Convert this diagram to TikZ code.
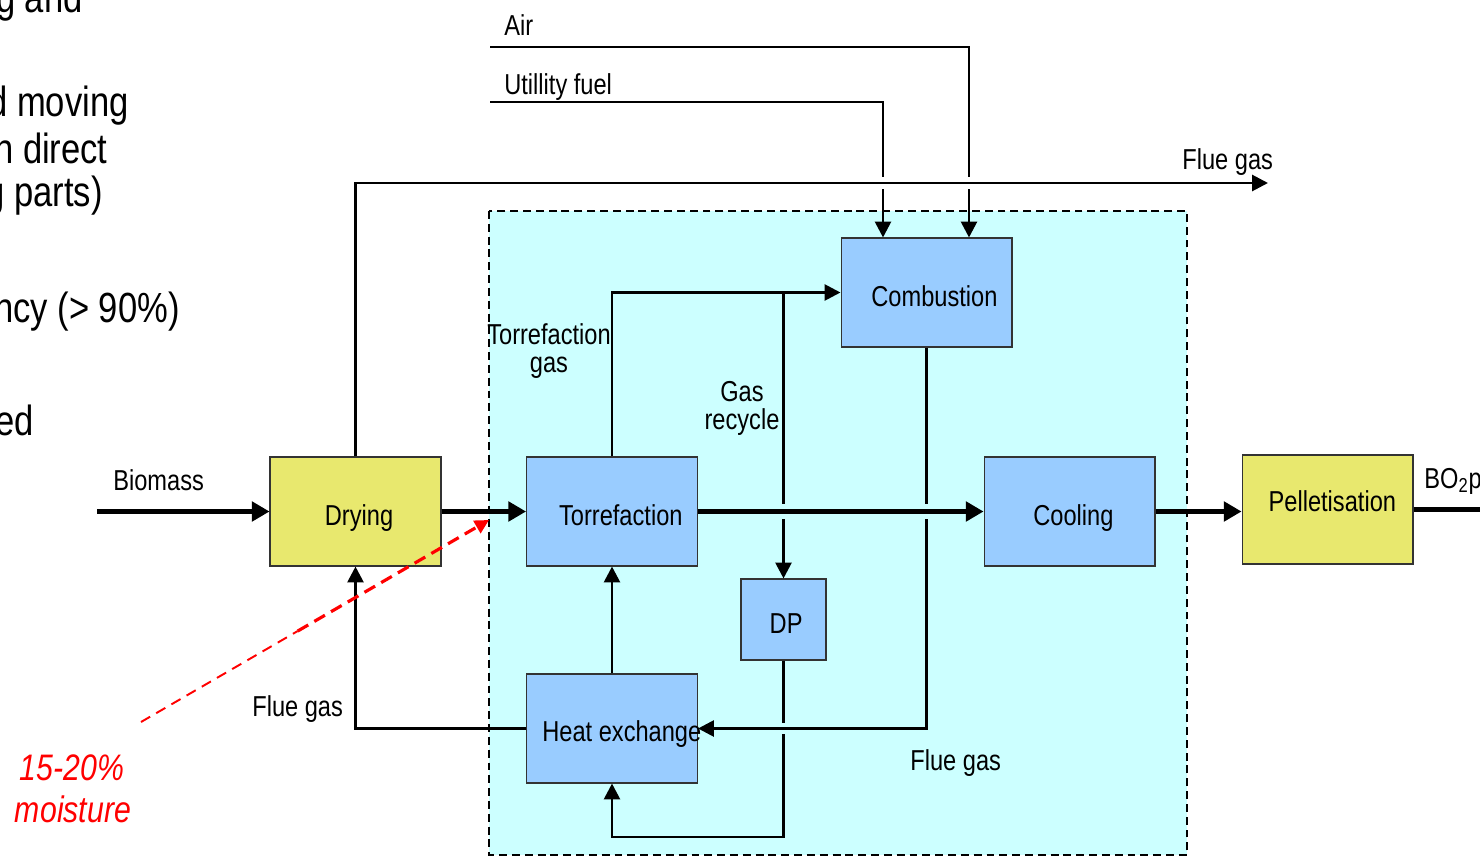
\documentclass[tikz,border=0pt]{standalone}
\usepackage{fontspec}
\setmainfont{Liberation Sans}[FakeStretch=0.82]
\usetikzlibrary{arrows.meta,calc}
\definecolor{boxblue}{HTML}{99CCFF}
\definecolor{boxyel}{HTML}{E8E86E}
\definecolor{regcyan}{HTML}{CCFFFF}
\begin{document}
\begin{tikzpicture}[x=0.02cm,y=-0.02cm,
  lbl/.style={font=\fontsize{16.4pt}{15.5pt}\selectfont, inner sep=0pt},
  big/.style={font=\fontsize{24pt}{28pt}\selectfont, inner sep=0pt, anchor=base east},
  redlbl/.style={font=\fontsize{21pt}{24pt}\selectfont\itshape, text=red, inner sep=0pt, anchor=base},
  box/.style={draw=black!80, line width=0.6pt, minimum width=3.42cm, minimum height=2.18cm, inner sep=0pt,
    font=\fontsize{16.4pt}{19pt}\selectfont, text height=16pt, text depth=0pt},
  bluebox/.style={box, fill=boxblue},
  yelbox/.style={box, fill=boxyel},
  flow/.style={line width=1.6pt, -{Triangle[length=9pt,width=9pt]}},
  mainflow/.style={line width=2.3pt, -{Triangle[length=10pt,width=11pt]}},
]
\useasboundingbox (0,0) rectangle (1480,858);
% region
\fill[regcyan] (489,211) rectangle (1187,855);
\draw[line width=1.3pt, dash pattern=on 4.5pt off 2.8pt] (489,211) rectangle (1187,855);

% left text (cut off)
\node[big] (t1) at (83,13) {g and};
\node[big] (t2) at (129,117) {d moving};
\node[big] (t3) at (108,164) {h direct};
\node[big] (t4) at (103,207) {g parts)};
\node[big] (t5) at (180,322) {ncy (> 90\%)};
\node[big] (t6) at (34,435) {ed};

% boxes
\node[yelbox] (dry) at (355.5,511.5) {\hspace*{4pt}Drying};
\node[bluebox] (torr) at (612,511.5) {\hspace*{10pt}Torrefaction};
\node[bluebox] (comb) at (926.5,292.5) {\hspace*{9pt}Combustion};
\node[bluebox] (cool) at (1069.5,511.5) {\hspace*{4.5pt}Cooling};
\node[yelbox, text height=9pt, text depth=7pt] (pell) at (1327.5,509.5) {\hspace*{5.5pt}Pelletisation};
\node[bluebox, minimum width=1.7cm, minimum height=1.62cm] (dp) at (783.5,619.5) {\hspace*{3pt}DP};
\node[bluebox] (hx) at (612,728.5) {};
\node[lbl, anchor=base west] (hxl) at (542,741) {Heat exchange};

% coordinates
\coordinate (bioS) at (97,511.5);
\coordinate (airS) at (490,47);
\coordinate (airC) at (969,47);
\coordinate (fuelS) at (490,102);
\coordinate (fuelC) at (883,102);
\coordinate (fgC) at (355.5,183);
\coordinate (fgE) at (1268,183);
\coordinate (grS) at (783.5,292.5);
\coordinate (dpLow) at (783.5,837);
\coordinate (pellOut) at (1490,509.5);
\coordinate (mS) at (141,722);
\coordinate (mE) at (489,520);

% connectors
\draw[flow] (airS) -- (airC) -- (airC |- comb.north);
\draw[flow] (fuelS) -- (fuelC) -- (fuelC |- comb.north);
\fill[white] (878,177) rectangle (888,189);
\fill[white] (964,177) rectangle (974,189);
\draw[flow] (dry.north) -- (fgC) -- (fgE);
\draw[flow] (grS) -- (dp.north);
\draw[flow] (dp.south) -- (dpLow) -| (hx.south);
\fill[regcyan] (778.5,723) rectangle (788.5,734);
\draw[flow] (comb.south) |- (hx.east);
\fill[regcyan] (778.5,504) rectangle (788.5,519);
\fill[regcyan] (921.5,504) rectangle (931.5,519);
\draw[mainflow] (torr.east) -- (cool.west);
\draw[flow] (torr.north) |- (comb.west);
\draw[flow] (hx.north) -- (torr.south);
\draw[flow] (hx.west) -| (dry.south);
\draw[mainflow] (bioS) -- (dry.west);
\draw[mainflow] (dry.east) -- (torr.west);
\draw[mainflow] (cool.east) -- (cool.east -| pell.west);
\draw[line width=2.3pt] (pell.east) -- (pellOut);

% red moisture arrow
\draw[red, line width=1.1pt, dash pattern=on 6pt off 4pt] (mS) -- ($(mS)!0.45!(mE)$);
\draw[red, line width=1.8pt, dash pattern=on 7pt off 4pt, -{Triangle[length=8pt,width=8pt]}] ($(mS)!0.45!(mE)$) -- (mE);

% labels
\node[lbl, anchor=base west] (lAir) at (504,36) {Air};
\node[lbl, anchor=base west] (lFuel) at (504,95) {Utillity fuel};
\node[lbl, anchor=base west] (lFgTop) at (1182,170) {Flue gas};
\node[lbl, anchor=base west] (lBio) at (113,490) {Biomass};
\node[lbl, anchor=base west] (lFgL) at (252,716) {Flue gas};
\node[lbl, anchor=base west] (lFgB) at (910,770) {Flue gas};
\node[lbl, align=center, anchor=base] (lTg) at (549,372) {Torrefaction\\gas};
\node[lbl, align=center, anchor=base] (lGr) at (742,429) {Gas\\recycle};
\node[lbl, anchor=base west] (lBO) at (1424,488) {BO\textsubscript{2}p};
\node[redlbl] (lM1) at (72,780) {15-20\%};
\node[redlbl] (lM2) at (73,822) {moisture};
\end{tikzpicture}
\end{document}
